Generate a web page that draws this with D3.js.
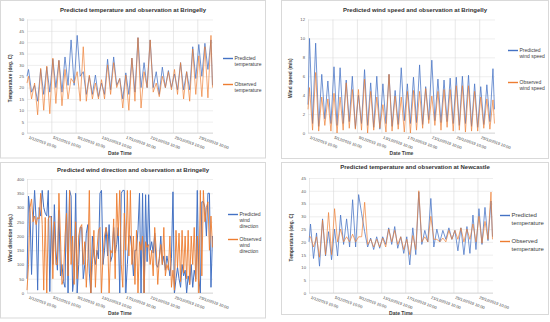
<!DOCTYPE html>
<html>
<head>
<meta charset="utf-8">
<script src="https://cdn.jsdelivr.net/npm/d3@7"></script>
<style>
  body { margin: 0; background: #fff; }
  svg { display: block; font-family: "Liberation Sans", Arial, sans-serif; }
</style>
</head>
<body>
<svg id="chart" width="550" height="322"></svg>
<script>
// hourly data thinned: temp / speed = start, (16:00 peak, 04:00 trough) per day, end
const tempBringellyPred = [25, 28,18, 21,14, 28,17, 29,18, 32.5,20, 32,18, 33.5,21, 41,21, 43,25, 27,17, 25,17, 25.5,16, 22,17,
  32.5,19, 33.5,21, 24,15, 26.5,17, 33,18, 42,20, 31,20, 41,20, 27,17, 29,20, 27.5,20, 26,19, 31,19, 27,19, 38,24, 39,25, 39.5,28, 41, 21];
const tempBringellyObs = [22, 25,15, 22,8, 28.5,10, 29.5,8.5, 33,13, 32,12, 28,15, 24,22, 27,14, 38,14, 25.5,15, 22,15, 23.5,15,
  30,17, 31,20, 24,11, 25.5,10, 33,14, 42,11, 27,20, 41,18, 22,16, 25,20, 27,19, 28,17, 31,15, 27,14, 37,17, 34,16, 38,15.5, 43, 20];

const speedPred = [3, 10,1, 9.5,0.7, 6.2,1.5, 5.5,1, 7,0.8, 6.9,1, 5.6,1.2, 6,0.5, 4,1, 6.7,0.8, 5.3,0.6, 6,0.4, 5.2,1,
  6.2,0.7, 4.5,0.9, 6.9,1.3, 5.2,1, 5.9,1.1, 7.2,0.9, 4.9,1.4, 7.7,1.3, 5.7,1.1, 5.6,1.2, 5.8,1, 5.9,0.8, 6,1, 6.1,0.7, 5.2,0.6, 4.9,0.9, 5.1,1.2, 6.8, 2.5];
const speedObs = [2.5, 4.8,0.3, 6.4,0.2, 3.8,0.8, 3.6,0.2, 4.2,0, 3.8,0.3, 5.3,0.5, 4.6,0.4, 4.6,0.3, 5.7,0, 4.4,0.3, 3.8,0.5, 3,0.1,
  6.2,0.2, 3.9,0.4, 3.8,0.1, 4.4,0, 4.5,0.3, 4.4,0.5, 4.7,1, 3.9,0.8, 4.4,0.3, 4.6,0.6, 4.6,0.2, 5,0.3, 5,0.1, 5,0.2, 4.4,0.2, 3.8,0.5, 3.6,0.4, 3.5, 1];

// wind direction every 6 hours from 1/12 10:00
const dirPred = [
  50,340,280,65, 250,360,255,10, 300,270,360,300, 280,270,360,5, 270,100,310,150, 80,290,60,100, 40,20,360,0, 360,340,5,60,
  350,0,100,230, 230,50,100,210, 240,70,0,200, 130,100,150,120, 350,360,100,150, 230,130,240,110, 130,230,140,170, 230,0,350,360,
  360,0,100,200, 200,150,60,150, 150,220,350,0, 350,0,345,110, 345,150,180,140, 210,100,90,120, 200,100,130,80, 130,100,60,120,
  355,0,50,90, 50,20,100,60, 80,0,60,30, 100,20,80,50, 360,50,0,320, 320,300,200,350, 350,20,200];
const dirObs = [
  10,100,300,330, 250,270,240,265, 260,350,240,10, 265,0,260,270, 265,50,250,100, 100,350,200,30, 50,200,280,60, 360,100,200,30,
  250,50,200,230, 240,100,180,20, 120,360,0,100, 220,20,150,220, 230,0,130,200, 230,200,0,150, 140,260,50,350, 200,360,100,20,
  280,150,360,130, 360,100,200,30, 220,0,180,150, 200,0,180,160, 170,100,150,60, 230,150,30,120, 170,100,230,60, 100,80,200,20,
  80,10,220,90, 210,40,220,70, 200,50,220,30, 200,100,230,40, 200,0,360,60, 360,250,300,320, 150,270,160];

const tempNewcastlePred = [20, 27,13.5, 23.5,10.5, 29,14.5, 24,13, 25,14.5, 30.5,19, 29,18, 36.5,18, 38.5,31, 24,18, 21.5,17, 22,17.5,
  22,19, 25.5,19, 26,17.5, 22,15.5, 22,11, 25.5,15, 39.5,19, 24.5,20, 37,18, 25,20, 24.5,21, 25.5,21, 24.5,16.5, 25.5,15, 26,15.5, 30.5,17, 33,19, 33.5,20.5, 36, 22];
const tempNewcastleObs = [22, 22,18, 22,14, 28.5,15, 31.5,15, 33,20, 25,20, 22,20, 23,20, 22,22, 35.5,19, 21,18, 21,18,
  21.5,18, 25,20, 24.5,19, 22,17, 21,15, 22.5,17, 40,20, 22,20, 30,21, 21,20, 21.5,20, 24.5,21, 24.5,21, 25.5,20, 25,21, 27,20, 30,19.5, 28,21, 39.5, 21];

const tickDays = [0, 4, 8, 12, 16, 20, 24, 28];

const start = new Date(2019, 11, 1, 10);
const end = d3.timeHour.offset(start, 734);
const fmt = d3.timeFormat("%-d/%-m/%Y %H:%M");
const tickDates = tickDays.map((d) => d3.timeHour.offset(start, d * 24));

const blue = "#4472C4";
const orange = "#ED7D31";

const halfDay = (vals) =>
  vals.map((v, i) => {
    const h = i === 0 ? 0 : i === vals.length - 1 ? 732 : 6 + 12 * (i - 1);
    return { t: d3.timeHour.offset(start, h), v };
  });
const sixHour = (vals) => vals.map((v, i) => ({ t: d3.timeHour.offset(start, 6 * i), v }));

const svg = d3.select("#chart");

const panels = [
  {
    box: [0.5, 0.5, 265, 157.5], left: 27, right: 213, top: 19.5, bottom: 133,
    yMax: 50, step: 5, title: "Predicted temperature and observation at Bringelly", titleY: 12,
    yTitle: "Temperature (deg. C)", yTitleX: 12, legendX: 223, legendY: [58, 84], legendFont: 5,
    labels: [["Predicted", "temperature"], ["Observed", "temperature"]],
    pred: halfDay(tempBringellyPred), obs: halfDay(tempBringellyObs), width: 0.75,
  },
  {
    box: [281.5, 0.5, 267, 158], left: 308, right: 495, top: 19.5, bottom: 133,
    yMax: 12, step: 2, title: "Predicted wind speed and observation at Bringelly", titleY: 12,
    yTitle: "Wind speed (m/s)", yTitleX: 292, legendX: 508, legendY: [50, 82], legendFont: 5,
    labels: [["Predicted", "wind speed"], ["Observed", "wind speed"]],
    pred: halfDay(speedPred), obs: halfDay(speedObs), width: 0.75,
  },
  {
    box: [0.5, 162.5, 265, 155.5], left: 27, right: 213, top: 179, bottom: 293,
    yMax: 400, step: 50, title: "Predicted wind direction and observation at Bringelly", titleY: 172,
    yTitle: "Wind direction (deg.)", yTitleX: 12, legendX: 228, legendY: [214, 239], legendFont: 5,
    labels: [["Predicted", "wind", "direction"], ["Observed", "wind", "direction"]],
    pred: sixHour(dirPred), obs: sixHour(dirObs), width: 1,
  },
  {
    box: [281.5, 162.5, 267, 152], left: 309, right: 493, top: 178, bottom: 293,
    yMax: 45, step: 5, title: "Predicted temperature and observation at Newcastle", titleY: 169,
    yTitle: "Temperature (deg. C)", yTitleX: 293, legendX: 500, legendY: [215, 241], legendFont: 6,
    labels: [["Predicted", "temperature"], ["Observed", "temperature"]],
    pred: halfDay(tempNewcastlePred), obs: halfDay(tempNewcastleObs), width: 0.75,
  },
];

function drawPanel(p) {
  const g = svg.append("g");

  g.append("rect")
    .attr("x", p.box[0]).attr("y", p.box[1])
    .attr("width", p.box[2]).attr("height", p.box[3])
    .attr("fill", "#fff").attr("stroke", "#d9d9d9").attr("stroke-width", 1);

  const x = d3.scaleTime().domain([start, end]).range([p.left, p.right]);
  const y = d3.scaleLinear().domain([0, p.yMax]).range([p.bottom, p.top]);

  // horizontal grid + y labels
  g.append("g")
    .attr("transform", `translate(${p.left},0)`)
    .call(d3.axisLeft(y).tickValues(d3.range(0, p.yMax + p.step / 2, p.step))
      .tickSize(-(p.right - p.left)).tickPadding(3).tickFormat((d) => d))
    .call((g) => g.select(".domain").remove())
    .call((g) => g.selectAll(".tick line").attr("stroke", "#e3e3e3").attr("stroke-width", 0.6))
    .call((g) => g.selectAll(".tick text").attr("fill", "#595959").attr("font-size", 4.2)
      .attr("font-family", "Liberation Sans, Arial, sans-serif"));

  // vertical grid + rotated date labels
  g.append("g")
    .attr("transform", `translate(0,${p.bottom})`)
    .call(d3.axisBottom(x).tickValues(tickDates).tickSize(-(p.bottom - p.top)).tickFormat(fmt))
    .call((g) => g.select(".domain").remove())
    .call((g) => g.selectAll(".tick line").attr("stroke", "#d9d9d9").attr("stroke-width", 0.6))
    .call((g) => g.selectAll(".tick text")
      .attr("y", 0).attr("dy", 0)
      .attr("transform", "translate(1,5.5) rotate(20)")
      .attr("text-anchor", "start")
      .attr("fill", "#404040").attr("font-size", 4)
      .attr("font-family", "Liberation Sans, Arial, sans-serif"));

  g.append("line")
    .attr("x1", p.left).attr("x2", p.right)
    .attr("y1", p.bottom).attr("y2", p.bottom)
    .attr("stroke", "#cfcfcf").attr("stroke-width", 0.7);

  const line = d3.line().x((d) => x(d.t)).y((d) => y(d.v));

  g.append("path").datum(p.pred)
    .attr("d", line).attr("fill", "none")
    .attr("stroke", blue).attr("stroke-width", p.width).attr("stroke-linejoin", "round");
  g.append("path").datum(p.obs)
    .attr("d", line).attr("fill", "none")
    .attr("stroke", orange).attr("stroke-width", p.width).attr("stroke-linejoin", "round")
    .attr("stroke-opacity", 0.9);

  const midX = (p.left + p.right) / 2;

  g.append("text")
    .attr("x", p.box[0] + p.box[2] / 2).attr("y", p.titleY)
    .attr("text-anchor", "middle").attr("font-size", 6).attr("font-weight", "bold")
    .attr("fill", "#333")
    .text(p.title);

  g.append("text")
    .attr("transform", `translate(${p.yTitleX},${(p.top + p.bottom) / 2 + 2}) rotate(-90)`)
    .attr("text-anchor", "middle").attr("font-size", 4.8).attr("font-weight", "bold")
    .attr("fill", "#404040")
    .text(p.yTitle);

  g.append("text")
    .attr("x", midX).attr("y", p.bottom + 22)
    .attr("text-anchor", "middle").attr("font-size", 5).attr("font-weight", "bold")
    .attr("fill", "#404040")
    .text("Date Time");

  // legend
  [blue, orange].forEach((c, i) => {
    const ly = p.legendY[i];
    g.append("line")
      .attr("x1", p.legendX).attr("x2", p.legendX + 10)
      .attr("y1", ly + 0.5).attr("y2", ly + 0.5)
      .attr("stroke", c).attr("stroke-width", 1.4);
    p.labels[i].forEach((s, j) => {
      g.append("text")
        .attr("x", p.legendX + 11.5).attr("y", ly + j * p.legendFont * 1.25)
        .attr("dy", "0.35em")
        .attr("font-size", p.legendFont).attr("fill", "#404040")
        .text(s);
    });
  });
}

panels.forEach(drawPanel);
</script>
</body>
</html>
